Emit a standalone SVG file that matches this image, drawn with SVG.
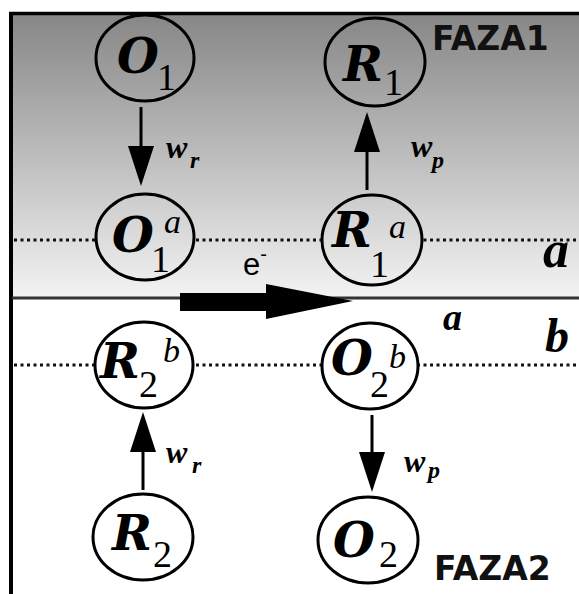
<svg xmlns="http://www.w3.org/2000/svg" width="579" height="594" viewBox="0 0 579 594">
<defs>
  <linearGradient id="bg" gradientUnits="userSpaceOnUse" x1="0" y1="13" x2="0" y2="298">
    <stop offset="0" stop-color="#868686"/>
    <stop offset="1" stop-color="#f3f3f3"/>
  </linearGradient>
  <marker id="ah" markerUnits="userSpaceOnUse" markerWidth="40" markerHeight="26" refX="30" refY="13" orient="auto">
    <path d="M0,0 L40,13 L0,26 z" fill="#000"/>
  </marker>
  <style>
    .node{stroke:#000;stroke-width:3}
    .top{fill:url(#bg)}
    .bot{fill:#fff}
    .L{font-family:"DejaVu Serif",serif;font-weight:bold;font-style:italic;font-size:48px;fill:#000}
    .sub{font-family:"Liberation Serif","Times New Roman",serif;font-size:38px;fill:#000}
    .sup{font-family:"Liberation Serif","Times New Roman",serif;font-style:italic;font-size:34px;fill:#000}
    .w{font-family:"Liberation Serif","Times New Roman",serif;font-weight:bold;font-style:italic;font-size:32px;fill:#000}
    .ws{font-family:"Liberation Serif","Times New Roman",serif;font-weight:bold;font-style:italic;font-size:24px;fill:#000}
    .big{font-family:"Liberation Serif","Times New Roman",serif;font-weight:bold;font-style:italic;fill:#000}
    .faza{font-family:"DejaVu Sans",sans-serif;font-weight:bold;font-size:33px;fill:#111}
    .dot{stroke:#111;stroke-width:3;stroke-dasharray:3 3.5;fill:none}
    .arr{stroke:#000;stroke-width:3;fill:none;marker-end:url(#ah)}
  </style>
</defs>
<rect x="0" y="0" width="579" height="594" fill="#fff"/>
<rect x="12" y="13" width="567" height="285" fill="url(#bg)"/>
<g id="frame" fill="none" stroke="#000">
  <line x1="9" y1="13.5" x2="579" y2="13.5" stroke-width="3.5"/>
  <line x1="11" y1="12" x2="11" y2="594" stroke-width="4"/>
  <line x1="12" y1="298" x2="579" y2="298" stroke="#333" stroke-width="3"/>
</g>
<g id="interfaces">
  <line class="dot" x1="14" y1="240" x2="576" y2="240"/>
  <line class="dot" x1="14" y1="365" x2="577" y2="365"/>
  <text class="big" x="543" y="267" font-size="52">a</text>
  <text class="big" x="545" y="352" font-size="48">b</text>
  <text class="big" x="443" y="330" font-size="38">a</text>
</g>
<g id="connectors">
  <line class="arr" x1="141" y1="107" x2="141" y2="176"/>
  <line class="arr" x1="367" y1="190" x2="367" y2="122"/>
  <line class="arr" x1="143" y1="490" x2="143" y2="422"/>
  <line class="arr" x1="372" y1="415" x2="372" y2="482"/>
  <text class="w" x="166" y="158">w<tspan class="ws" x="190" y="168">r</tspan></text>
  <text class="w" x="411" y="157">w<tspan class="ws" x="432" y="168">p</tspan></text>
  <text class="w" x="166" y="463">w<tspan class="ws" x="192" y="473">r</tspan></text>
  <text class="w" x="404" y="472">w<tspan class="ws" x="428" y="478">p</tspan></text>
</g>
<g id="electron">
  <polygon points="180,293 266,293 266,284 353,301 266,319 266,311 180,311" fill="#000"/>
  <text x="243" y="275" font-family="Liberation Sans, Arial, sans-serif" font-size="31" fill="#000">e<tspan font-size="20" dy="-14">-</tspan></text>
</g>
<g id="O1">
  <ellipse class="node top" cx="145" cy="58" rx="49" ry="43"/>
  <text class="L" x="117" y="73">O</text><text class="sub" x="157" y="90">1</text>
</g>
<g id="R1">
  <ellipse class="node top" cx="375" cy="62" rx="50" ry="44"/>
  <text class="L" x="343" y="81">R</text><text class="sub" x="384" y="95">1</text>
</g>
<g id="O1a">
  <ellipse class="node top" cx="145" cy="237" rx="49" ry="43"/>
  <text class="L" x="112" y="252">O</text><text class="sub" x="151" y="272">1</text><text class="sup" x="164" y="233">a</text>
</g>
<g id="R1a">
  <ellipse class="node top" cx="372" cy="240" rx="50" ry="45"/>
  <text class="L" x="332" y="247">R</text><text class="sub" x="370" y="277">1</text><text class="sup" x="389" y="238">a</text>
</g>
<g id="R2b">
  <ellipse class="node bot" cx="144" cy="365" rx="49" ry="43"/>
  <text class="L" x="100" y="378">R</text><text class="sub" x="139" y="397">2</text><text class="sup" x="163" y="362">b</text>
</g>
<g id="O2b">
  <ellipse class="node bot" cx="370" cy="366" rx="48" ry="43"/>
  <text class="L" x="331" y="375">O</text><text class="sub" x="370" y="397">2</text><text class="sup" x="389" y="368">b</text>
</g>
<g id="R2">
  <ellipse class="node bot" cx="143" cy="537" rx="50" ry="43"/>
  <text class="L" x="112" y="550">R</text><text class="sub" x="153" y="567">2</text>
</g>
<g id="O2">
  <ellipse class="node bot" cx="368" cy="540" rx="50" ry="43"/>
  <text class="L" x="333" y="557">O</text><text class="sub" x="379" y="567">2</text>
</g>
<g id="labels">
  <text class="faza" x="432" y="50">FAZA1</text>
  <text class="faza" x="434" y="580">FAZA2</text>
</g>
</svg>
